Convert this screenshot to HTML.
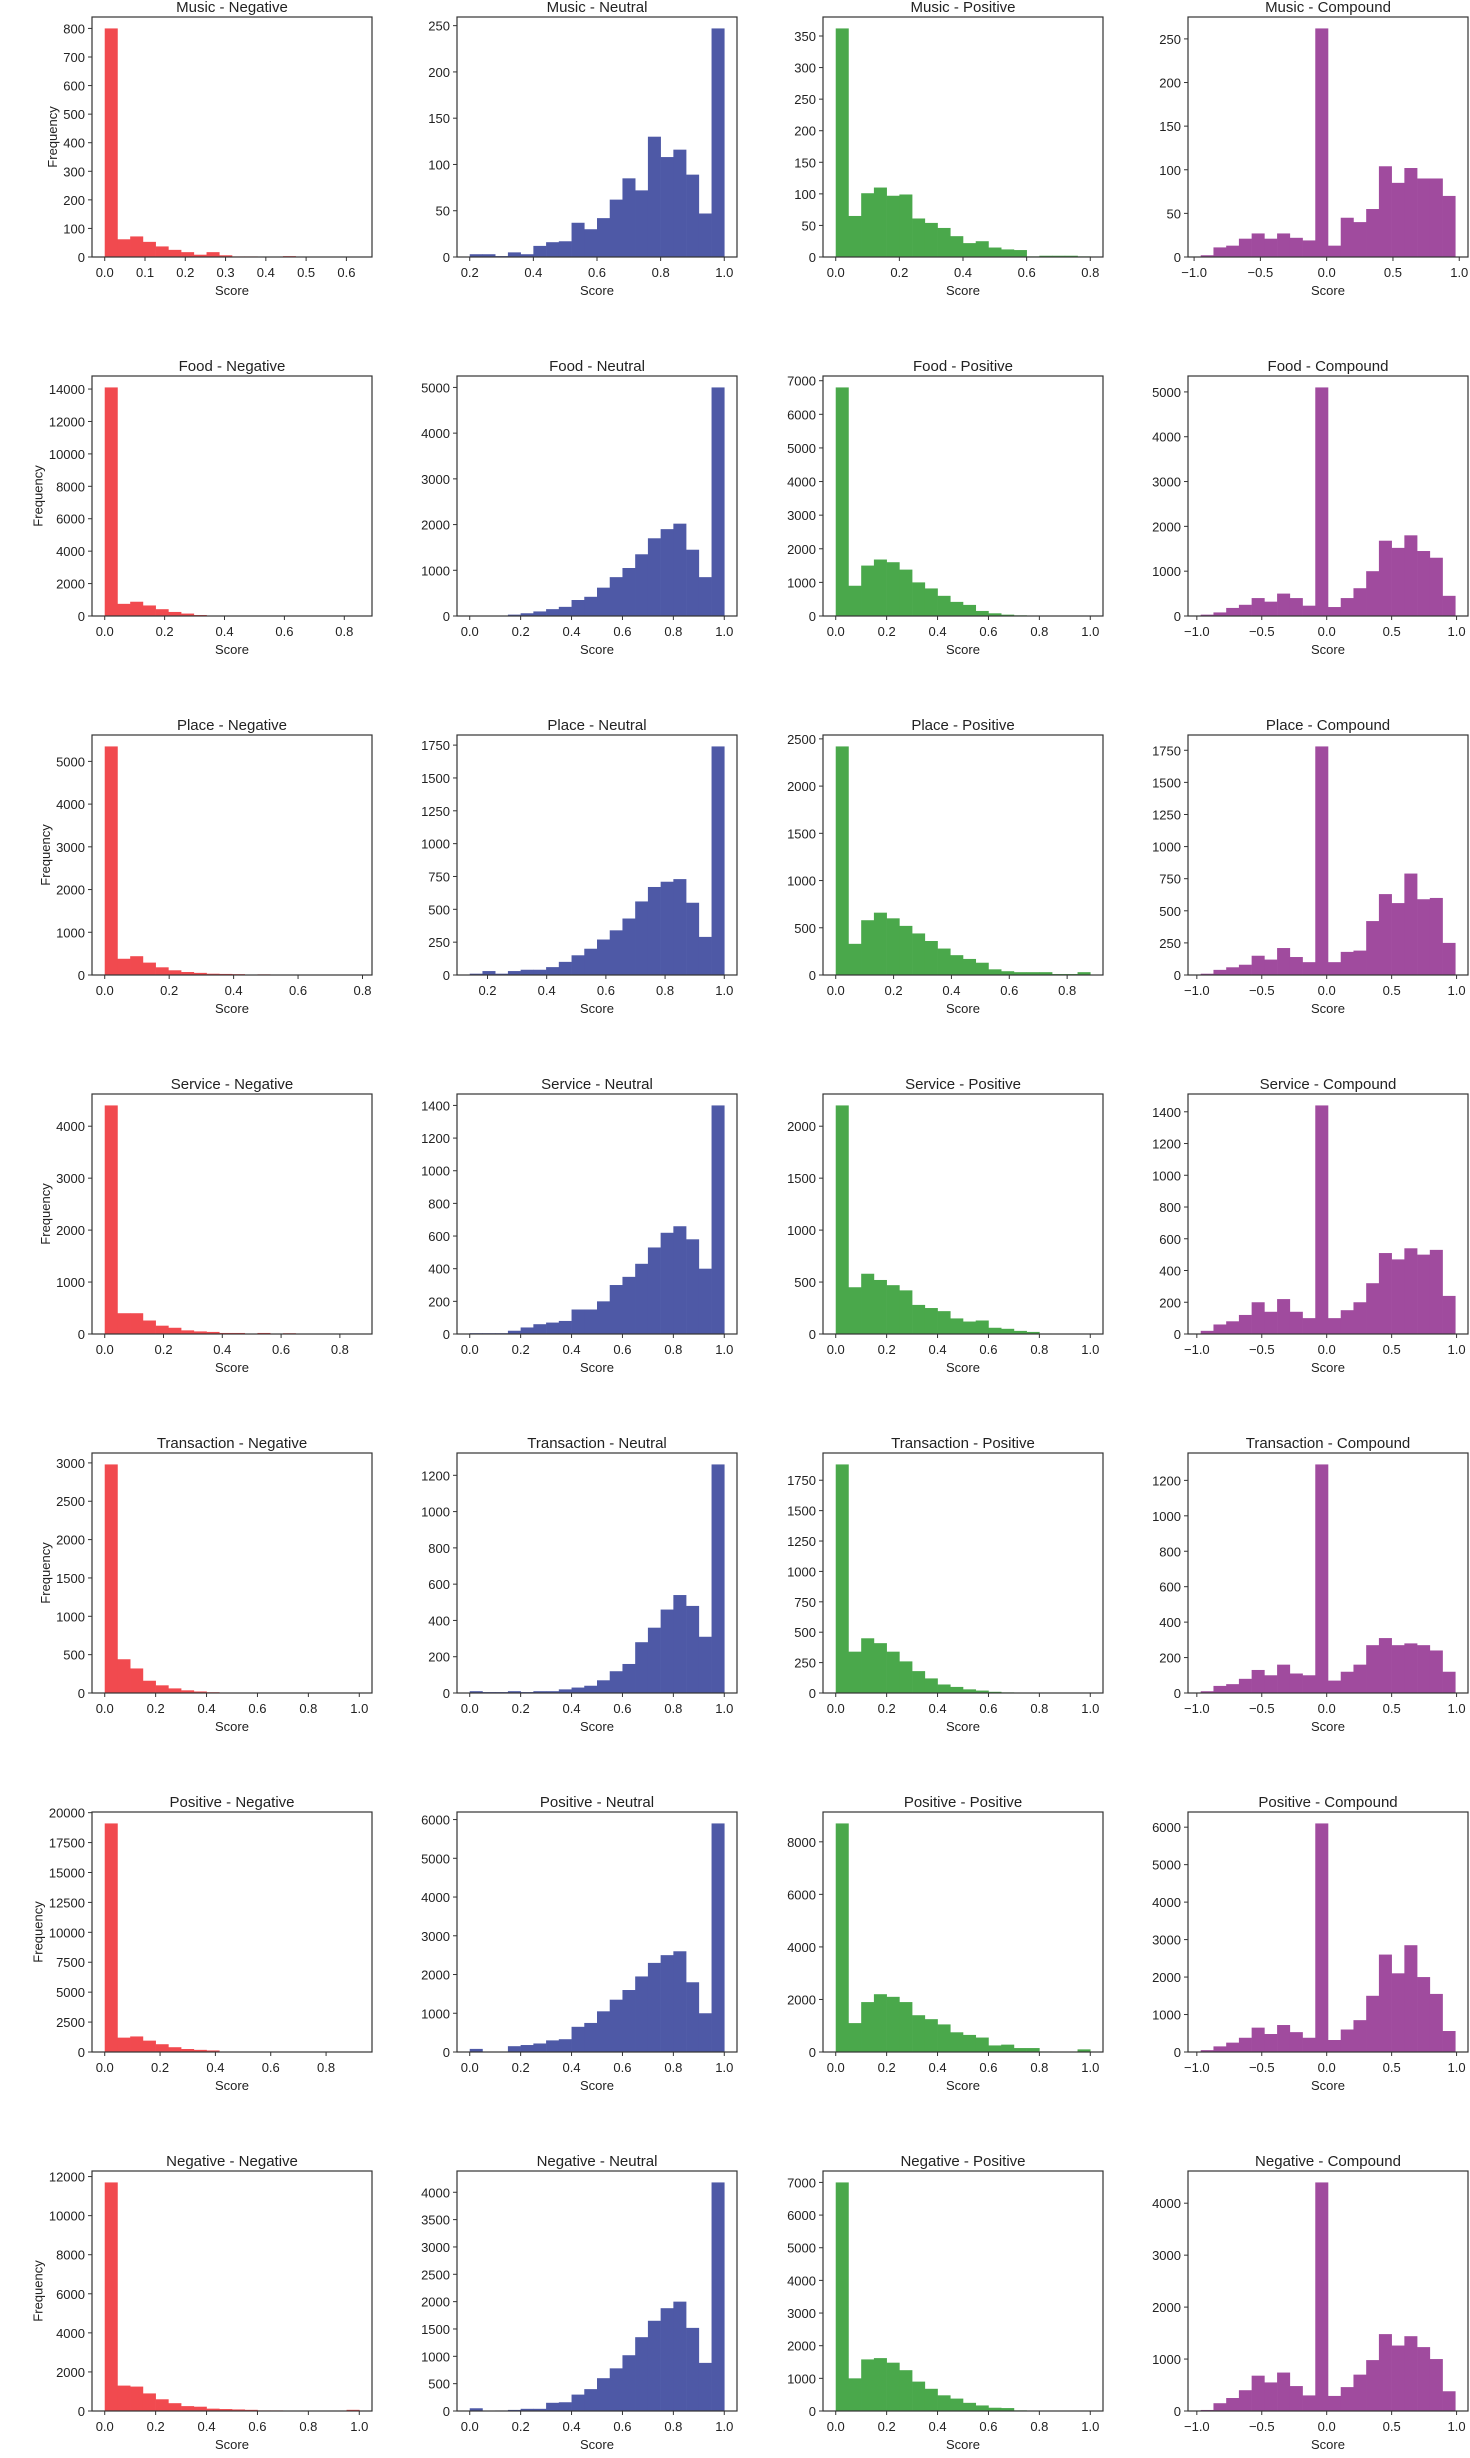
<!DOCTYPE html>
<html><head><meta charset="utf-8">
<style>
html,body{margin:0;padding:0;background:#fff;}
svg{display:block;}
text{font-family:"Liberation Sans","DejaVu Sans",sans-serif;fill:#222;}
</style></head>
<body>
<svg id="fig" width="1470" height="2458" viewBox="0 0 1470 2458" xmlns="http://www.w3.org/2000/svg"></svg>
<script>
const rowNames = ["Music","Food","Place","Service","Transaction","Positive","Negative"];
const colNames = ["Negative","Neutral","Positive","Compound"];
const colColors = ["#f14a4f","#4e59a6","#4aa84b","#a04b9e"];

// data ranges [min,max] per subplot (row-major)
const ranges = [
 [[0,0.632],[0.2,1.0],[0,0.8],[-0.95,0.97]],
 [[0,0.85],[0,1],[0,1],[-0.97,0.99]],
 [[0,0.79],[0.14,1.0],[0,0.88],[-0.97,0.99]],
 [[0,0.866],[0,1],[0,1],[-0.97,0.99]],
 [[0,1],[0,1],[0,1],[-0.97,0.99]],
 [[0,0.92],[0,1],[0,1],[-0.97,0.99]],
 [[0,1],[0,1],[0,1],[-0.97,0.99]]
];

// bin counts (20 bins each)
const musicNeg = [800,62,72,53,37,25,17,8,17,6,2,2,0,1,3,0,1,0,1,1];
const musicNeu = [3,3,1,5,3,12,16,17,37,30,42,62,85,72,130,108,116,89,47,247];
const musicPos = [362,65,101,110,97,99,61,54,46,33,22,25,15,12,11,1,2,2,2,1];
const musicCmp = [2,11,13,21,27,21,27,22,19,262,13,45,40,55,104,85,102,90,90,70];

const foodNeg = [14100,750,880,650,420,250,150,60,30,20,10,5,5,3,2,2,1,1,1,1];
const foodNeu = [10,10,10,30,60,100,150,200,350,420,620,850,1050,1350,1700,1900,2020,1450,850,5000];
const foodPos = [6800,900,1500,1680,1600,1380,1000,820,600,420,330,150,80,40,20,10,5,3,2,2];
const foodCmp = [30,80,180,250,400,320,500,400,230,5100,200,400,620,1000,1680,1520,1800,1450,1300,450];

const placeNeg = [5350,380,440,290,180,110,70,50,30,25,20,10,15,8,5,5,3,5,3,3];
const placeNeu = [10,30,10,30,40,40,60,100,150,200,270,340,430,560,670,710,730,550,290,1740];
const placePos = [2420,330,580,660,600,520,440,360,280,210,170,130,60,40,30,30,30,10,10,30];
const placeCmp = [10,40,60,80,150,120,210,140,100,1780,100,180,190,420,630,560,790,590,600,250];

const serviceNeg = [4400,400,400,260,160,120,70,50,40,20,20,10,20,10,15,5,5,5,5,5];
const serviceNeu = [5,5,5,20,40,60,70,80,150,150,200,300,350,430,530,620,660,580,400,1400];
const servicePos = [2200,450,580,520,470,420,280,250,220,150,120,130,60,50,30,20,5,3,2,2];
const serviceCmp = [20,60,80,120,200,140,220,140,100,1440,100,150,200,320,510,470,540,500,530,240];

const transNeg = [2980,440,320,160,100,60,35,20,10,5,3,3,3,3,3,3,3,3,3,3];
const transNeu = [10,5,5,10,5,10,10,20,30,40,70,120,160,280,360,460,540,480,310,1260];
const transPos = [1880,340,450,410,340,260,180,120,70,50,30,20,10,5,3,2,2,1,1,1];
const transCmp = [10,40,50,80,130,100,160,110,100,1290,70,120,160,270,310,270,280,270,240,120];

const posNeg = [19100,1200,1300,950,650,400,250,180,130,40,20,10,5,5,3,3,2,2,2,2];
const posNeu = [80,10,10,150,180,220,300,330,650,750,1050,1350,1600,1950,2300,2500,2600,1800,1000,5900];
const posPos = [8700,1100,1900,2200,2100,1900,1400,1250,1050,750,650,550,250,280,150,150,20,10,10,100];
const posCmp = [50,150,250,380,650,480,720,530,380,6100,320,600,850,1500,2600,2100,2850,2000,1550,560];

const negNeg = [11700,1300,1250,900,600,400,250,220,120,100,80,60,30,30,20,20,10,5,5,60];
const negNeu = [50,5,10,20,40,40,150,160,300,400,600,780,1020,1350,1650,1880,2000,1520,880,4180];
const negPos = [7000,1000,1580,1620,1480,1250,900,680,480,380,250,170,100,90,20,10,5,3,2,2];
const negCmp = [20,150,250,400,680,550,740,480,300,4400,290,460,700,980,1480,1260,1440,1230,1000,380];

const counts = [
 [musicNeg,musicNeu,musicPos,musicCmp],
 [foodNeg,foodNeu,foodPos,foodCmp],
 [placeNeg,placeNeu,placePos,placeCmp],
 [serviceNeg,serviceNeu,servicePos,serviceCmp],
 [transNeg,transNeu,transPos,transCmp],
 [posNeg,posNeu,posPos,posCmp],
 [negNeg,negNeu,negPos,negCmp]
];

// tick label arrays
const xTicksNeg = [["0.0","0.1","0.2","0.3","0.4","0.5","0.6"],["0.0","0.2","0.4","0.6","0.8"],["0.0","0.2","0.4","0.6","0.8"],["0.0","0.2","0.4","0.6","0.8"],["0.0","0.2","0.4","0.6","0.8","1.0"],["0.0","0.2","0.4","0.6","0.8"],["0.0","0.2","0.4","0.6","0.8","1.0"]];
const xTicksNeu = [["0.2","0.4","0.6","0.8","1.0"],["0.0","0.2","0.4","0.6","0.8","1.0"],["0.2","0.4","0.6","0.8","1.0"],["0.0","0.2","0.4","0.6","0.8","1.0"],["0.0","0.2","0.4","0.6","0.8","1.0"],["0.0","0.2","0.4","0.6","0.8","1.0"],["0.0","0.2","0.4","0.6","0.8","1.0"]];
const xTicksPos = [["0.0","0.2","0.4","0.6","0.8"],["0.0","0.2","0.4","0.6","0.8","1.0"],["0.0","0.2","0.4","0.6","0.8"],["0.0","0.2","0.4","0.6","0.8","1.0"],["0.0","0.2","0.4","0.6","0.8","1.0"],["0.0","0.2","0.4","0.6","0.8","1.0"],["0.0","0.2","0.4","0.6","0.8","1.0"]];
const xTicksCmp = ["-1.0","-0.5","0.0","0.5","1.0"];

const yTickSteps = [
 [100,50,50,50],
 [2000,1000,1000,1000],
 [1000,250,500,250],
 [1000,200,500,200],
 [500,200,250,200],
 [2500,1000,2000,1000],
 [2000,500,1000,1000]
];

const NS = "http://www.w3.org/2000/svg";
const svg = document.getElementById("fig");
const colLeft = [92,457,823,1188];
const axW = 280, axH = 240, rowTop0 = 17, rowPitch = 359;

function mk(tag, attrs, parent){
  const e = document.createElementNS(NS, tag);
  for (const k in attrs) e.setAttribute(k, attrs[k]);
  parent.appendChild(e);
  return e;
}
function txt(parent, x, y, s, size, anchor, rot){
  const t = document.createElementNS(NS,"text");
  t.setAttribute("transform", "translate("+x+","+y+")" + (rot? " rotate(-90)":""));
  t.setAttribute("font-size", size);
  t.setAttribute("text-anchor", anchor);
  t.textContent = s;
  parent.appendChild(t);
  return t;
}

for (let r=0;r<7;r++){
  for (let c=0;c<4;c++){
    const L = colLeft[c], T = rowTop0 + r*rowPitch, B = T+axH, R = L+axW;
    const g = mk("g",{},svg);
    
    
    const vals = counts[r][c];
    const [dmin,dmax] = ranges[r][c];
    const span = dmax-dmin;
    const xlo = dmin-0.05*span, xhi = dmax+0.05*span;
    const ymax = Math.max(...vals)*1.05;
    const xs = v => L + (v-xlo)/(xhi-xlo)*axW;
    const ys = v => B - v/ymax*axH;
    const bw = span/vals.length;
    for (let i=0;i<vals.length;i++){
      const x0 = xs(dmin+i*bw), x1 = xs(dmin+(i+1)*bw);
      const rect = mk("rect",{x:x0,y:ys(vals[i]),width:Math.max(0,x1-x0+0.3),height:B-ys(vals[i]),fill:colColors[c]},g);
      
      
    }
    const frame = mk("rect",{x:L,y:T,width:axW,height:axH,fill:"none",stroke:"#333","stroke-width":1.2},g);
    
    
    const xt = c===3 ? xTicksCmp : (c===0? xTicksNeg[r] : c===1? xTicksNeu[r] : xTicksPos[r]);
    for (const lab of xt){
      const v = parseFloat(lab), px = xs(v);
      mk("line",{x1:px,x2:px,y1:B,y2:B+4,stroke:"#333","stroke-width":1},g);
      const t = txt(g, px, B+20, lab.replace("-","\u2212"), 13, "middle");
      
      
    }
    const step = yTickSteps[r][c];
    let maxLen = 1;
    for (let v=0; v<=ymax; v+=step){
      const py = ys(v);
      maxLen = Math.max(maxLen, String(v).length);
      mk("line",{x1:L-4,x2:L,y1:py,y2:py,stroke:"#333","stroke-width":1},g);
      const t = txt(g, L-7, py+5, String(v), 13, "end");
      
      
    }
    const ti = txt(g, L+axW/2, T-5, rowNames[r]+" - "+colNames[c], 15, "middle");
    
    
    const xl = txt(g, L+axW/2, B+38, "Score", 13, "middle");
    
    
    if (c===0){
      const yx = L - 7 - maxLen*7.3 - 6;
      const yl = txt(g, yx, T+axH/2, "Frequency", 13, "middle", true);
      
      
    }
  }
}
</script>
</body></html>
